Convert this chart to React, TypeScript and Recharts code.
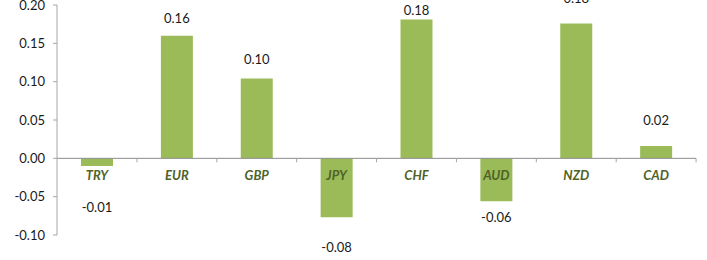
import { BarChart, Bar, XAxis, YAxis, ReferenceLine, LabelList } from "recharts";

const currencies = ["TRY", "EUR", "GBP", "JPY", "CHF", "AUD", "NZD", "CAD"];
const changes = [-0.01, 0.16, 0.104, -0.077, 0.181, -0.056, 0.176, 0.016];
const yTicks = [-0.1, -0.05, 0, 0.05, 0.1, 0.15, 0.2];
// distance (px) from bar end to the value label centre, as placed in the original
const labelGap = [41, -18, -20, 30, -10, 16, -25, -26];

const data = currencies.map((name, i) => ({ name, value: changes[i] }));

const FONT = "Lato, 'Open Sans', sans-serif";
const BAND = (707 - 57 - 11) / currencies.length;

function BarLabels(props: any) {
  const { x, y, width, height, index, value } = props;
  const top = Math.min(y, y + height);
  const bottom = Math.max(y, y + height);
  const cx = x + width / 2;
  const zero = value >= 0 ? bottom : top;
  const end = value >= 0 ? top : bottom;
  return (
    <g>
      <line x1={cx + BAND / 2} x2={cx + BAND / 2} y1={zero} y2={zero + 4} stroke="#a6a6a6" />
      <text
        x={cx}
        y={zero + 17}
        textAnchor="middle"
        dominantBaseline="central"
        fontFamily={FONT}
        fontSize={13}
        fontWeight={700}
        fontStyle="italic"
        fill="#4f6228"
      >
        {currencies[index]}
      </text>
      <text
        x={cx}
        y={end + labelGap[index]}
        textAnchor="middle"
        dominantBaseline="central"
        fontFamily={FONT}
        fontSize={13}
        fill="#1a1a1a"
      >
        {value.toFixed(2)}
      </text>
    </g>
  );
}

export default function App() {
  return (
    <div style={{ position: "absolute", left: 0, top: 0, background: "#fff" }}>
      <BarChart
        width={707}
        height={260}
        data={data}
        margin={{ top: 5, right: 11, bottom: 25, left: 0 }}
      >
        <XAxis dataKey="name" hide />
        <YAxis
          width={57}
          domain={[-0.1, 0.2]}
          ticks={yTicks}
          interval={0}
          tickFormatter={(v: number) => v.toFixed(2)}
          tick={{ fontFamily: FONT, fontSize: 13, fill: "#1a1a1a" }}
          tickSize={4}
          tickMargin={8}
          axisLine={{ stroke: "#a6a6a6" }}
          tickLine={{ stroke: "#a6a6a6" }}
        />
        <ReferenceLine y={0} stroke="#8c8c8c" strokeWidth={1} />
        <Bar dataKey="value" fill="#9bbb59" barSize={32} isAnimationActive={false}>
          <LabelList dataKey="value" content={<BarLabels />} />
        </Bar>
      </BarChart>
    </div>
  );
}
